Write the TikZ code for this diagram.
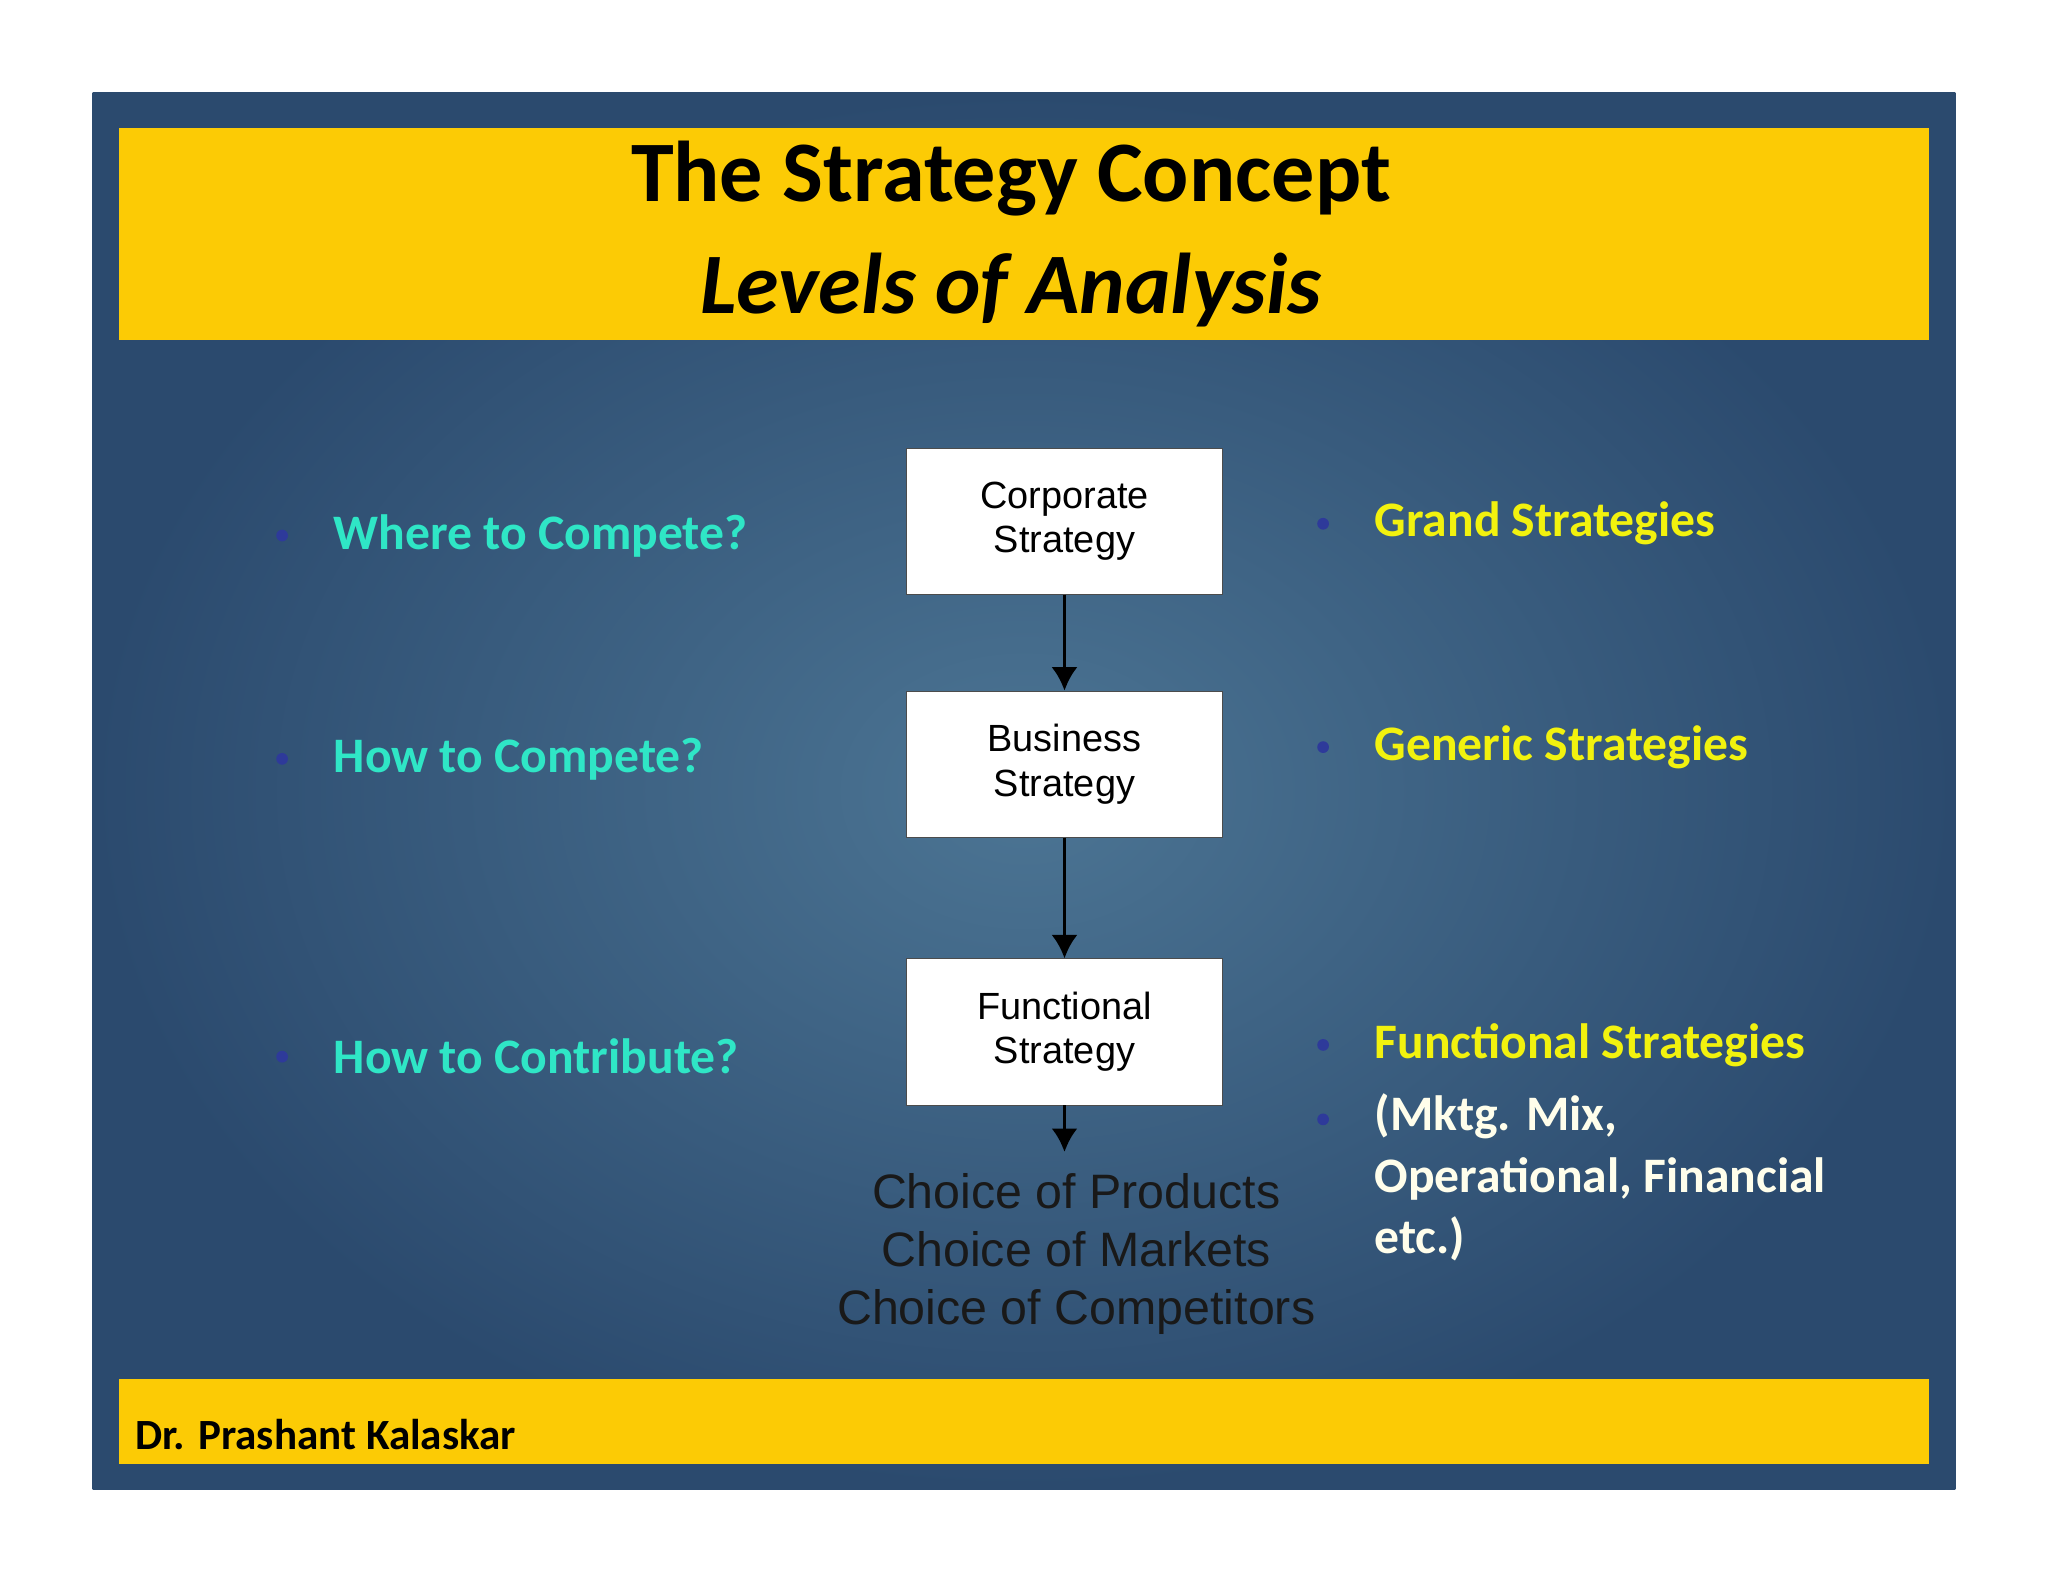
\documentclass[tikz,border=0pt]{standalone}
\usepackage{fontspec}
\usetikzlibrary{arrows.meta}
\setmainfont{Carlito}
\newfontfamily\arial{Liberation Sans}
\definecolor{panel}{HTML}{2B4A6E}
\definecolor{panelc}{HTML}{4C7594}
\definecolor{band}{HTML}{FCCB05}
\definecolor{cyantx}{HTML}{2FE6C6}
\definecolor{yeltx}{HTML}{F2F20E}
\definecolor{dotc}{HTML}{2E3A9A}
\begin{document}
\begin{tikzpicture}[x=1pt,y=-1pt,
  box/.style={draw=black!70,fill=white,minimum width=242pt,minimum height=112pt,inner sep=0pt,align=center,font=\arial\fontsize{29}{34}\selectfont},
  arr/.style={-{Latex[length=18pt,width=20pt]},line width=3pt},
  lq/.style={anchor=west,text=cyantx,font=\bfseries\fontsize{38}{44}\selectfont},
  rq/.style={anchor=west,text=yeltx,font=\bfseries\fontsize{38}{44}\selectfont},
  dot/.style={circle,fill=dotc,inner sep=0pt,minimum size=9pt}]
\useasboundingbox (0,0) rectangle (1568,1211);
\fill[white] (0,0) rectangle (1568,1211);
\shade[inner color=panelc,outer color=panel] (71,71) rectangle (1497,1140);
\fill[band] (91,98) rectangle (1477,260);
\fill[band] (91,1056) rectangle (1477,1121);
\node[font=\bfseries\fontsize{66}{70}\selectfont] (t1) at (774,137) {The Strategy Concept};
\node[font=\bfseries\itshape\fontsize{66}{70}\selectfont] (t2) at (774,222) {Levels of Analysis};
\node[anchor=west,font=\bfseries\fontsize{33}{38}\selectfont] (auth) at (100,1098) {Dr. Prashant Kalaskar};
\node[box] (c) at (815,399) {Corporate\\Strategy};
\node[box] (b) at (815,585) {Business\\Strategy};
\node[box] (f) at (815,790) {Functional\\Strategy};
\coordinate (e) at (815,882);
\draw[arr] (c) -- (b);
\draw[arr] (b) -- (f);
\draw[arr] (f) -- (e);
\node[align=center,text=black!90,font=\arial\fontsize{37}{44.5}\selectfont] (ch) at (824,960) {Choice of Products\\Choice of Markets\\Choice of Competitors};
\node[dot] (d1) at (216,410) {}; \node[lq] (l1) at (252,410) {Where to Compete?};
\node[dot] (d2) at (216,581) {}; \node[lq] (l2) at (252,581) {How to Compete?};
\node[dot] (d3) at (216,809) {}; \node[lq] (l3) at (252,809) {How to Contribute?};
\node[dot] (r1d) at (1013,401) {}; \node[rq] (r1) at (1049,401) {Grand Strategies};
\node[dot] (r2d) at (1013,572) {}; \node[rq] (r2) at (1049,572) {Generic Strategies};
\node[dot] (r3d) at (1013,800) {}; \node[rq] (r3) at (1049,800) {Functional Strategies};
\node[dot] (r4d) at (1013,857) {};
\node[anchor=north west,align=left,text=white!92!yellow,font=\bfseries\fontsize{38}{47}\selectfont] (r4) at (1049,834) {(Mktg. Mix,\\Operational, Financial\\etc.)};
\end{tikzpicture}
\end{document}
